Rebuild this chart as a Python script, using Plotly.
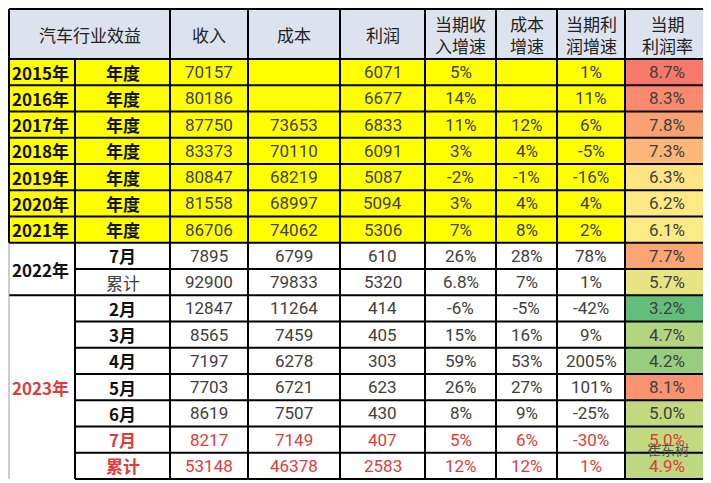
import plotly.graph_objects as go

headers = ["汽车行业效益", "收入", "成本", "利润", "当期收<br>入增速", "成本<br>增速", "当期利<br>润增速", "当期<br>利润率"]
years = ["2015年", "2016年", "2017年", "2018年", "2019年", "2020年", "2021年"]
periods = ["年度"] * 7 + ["7月", "累计", "2月", "3月", "4月", "5月", "6月", "7月", "累计"]
revenue = [70157, 80186, 87750, 83373, 80847, 81558, 86706, 7895, 92900, 12847, 8565, 7197, 7703, 8619, 8217, 53148]
cost = [None, None, 73653, 70110, 68219, 68997, 74062, 6799, 79833, 11264, 7459, 6278, 6721, 7507, 7149, 46378]
profit = [6071, 6677, 6833, 6091, 5087, 5094, 5306, 610, 5320, 414, 405, 303, 623, 430, 407, 2583]
rev_growth = ["5%", "14%", "11%", "3%", "-2%", "3%", "7%", "26%", "6.8%", "-6%", "15%", "59%", "26%", "8%", "5%", "12%"]
cost_growth = ["", "", "12%", "4%", "-1%", "4%", "8%", "28%", "7%", "-5%", "16%", "53%", "27%", "9%", "6%", "12%"]
profit_growth = ["1%", "11%", "6%", "-5%", "-16%", "4%", "2%", "78%", "1%", "-42%", "9%", "2005%", "101%", "-25%", "-30%", "1%"]
margin = [8.7, 8.3, 7.8, 7.3, 6.3, 6.2, 6.1, 7.7, 5.7, 3.2, 4.7, 4.2, 8.1, 5.0, 5.0, 4.9]

# layout styles
xb = [9, 75, 170, 248, 340, 425, 496, 557, 625, 709]
head_top, head_bot = 9, 59
rh = 26.25
NR = len(periods)
def rt(i): return head_bot + i * rh
GREY = "#404040"; RED = "#e03c3c"
NUM_FONT = "Liberation Sans Narrow, Arial Narrow, Roboto, sans-serif"
CJK = "Noto Sans CJK SC"

def lerp(c1, c2, t):
    return "rgb(%d,%d,%d)" % tuple(round(a + (b - a) * t) for a, b in zip(c1, c2))
lo, hi = min(margin), max(margin)
s = sorted(margin); mid = (s[NR//2 - 1] + s[NR//2]) / 2
def scale(v):
    g, y, r = (99, 190, 123), (255, 235, 132), (248, 120, 107)
    if v <= mid: return lerp(g, y, (v - lo) / (mid - lo))
    return lerp(y, r, (v - mid) / (hi - mid))

shapes, ann = [], []
def rect(x0, y0, x1, y1, fill):
    shapes.append(dict(type="rect", x0=x0, x1=x1, y0=y0, y1=y1, fillcolor=fill, line=dict(width=0), layer="below"))
def line(x0, y0, x1, y1, w=2, c="black"):
    shapes.append(dict(type="line", x0=x0, x1=x1, y0=y0, y1=y1, line=dict(color=c, width=w)))
def text(x, y, t, size=17, color=GREY, font=NUM_FONT, bold=False, xanchor="center"):
    if bold: t = "<b>%s</b>" % t
    ann.append(dict(x=x, y=y, text=t, showarrow=False, xanchor=xanchor, yanchor="middle",
                    font=dict(size=size, color=color, family=font)))

# header
rect(xb[0], head_top, xb[-1], head_bot, "#dce3ef")
text((xb[0] + xb[2]) / 2, (head_top + head_bot) / 2, headers[0], 17, "#222", CJK)
for j, h in enumerate(headers[1:]):
    text((xb[j + 2] + xb[j + 3]) / 2, (head_top + head_bot) / 2, h, 17, "#222", CJK)

for i in range(NR):
    y0, y1 = rt(i), rt(i + 1); yc = (y0 + y1) / 2
    if i < 7:
        rect(xb[0], y0, xb[8], y1, "#ffff00")
        text(xb[0] + 1, yc, years[i], 17, "#111", CJK, True, "left")
    rect(xb[8], y0, xb[9], y1, scale(margin[i]))
    red = i >= 14
    col = RED if red else GREY
    pbold = (i != 8)
    text((xb[1] + xb[2]) / 2, yc, periods[i], 17, RED if red else ("#111" if pbold else GREY), CJK, pbold)
    vals = [revenue[i], cost[i], profit[i], rev_growth[i], cost_growth[i], profit_growth[i], "%.1f%%" % margin[i]]
    for j, v in enumerate(vals):
        if v is None or v == "": continue
        text((xb[j + 2] + xb[j + 3]) / 2, yc, str(v), 17, col)

text(xb[0] + 1, rt(8), "2022年", 17, "#111", CJK, True, "left")
text(xb[0] + 1, (rt(12) + rt(13)) / 2, "2023年", 17, RED, CJK, True, "left")

# grid lines
line(xb[0], head_top, xb[-1], head_top, 2)
for i in range(NR + 1):
    y = rt(i)
    x0 = xb[0] if (i <= 7 or i == 9) else xb[1]
    line(x0, y, xb[-1], y, 2.2 if i <= 7 else 1.8)
for k, x in enumerate(xb):
    if k == 1:
        line(x, head_bot, x, rt(NR), 2)
    elif k == 0:
        line(x, head_top, x, rt(7), 2)
        line(x, rt(7), x, rt(NR), 1, "#999")
    else:
        line(x, head_top, x, rt(NR), 2)

ann.append(dict(x=668, y=449, text="崔东树", showarrow=False, font=dict(size=14, color="#555", family=CJK)))

fig = go.Figure()
fig.update_layout(width=703, height=475, margin=dict(l=0, r=0, t=0, b=0),
                  paper_bgcolor="white", plot_bgcolor="white",
                  xaxis=dict(range=[8, 711], visible=False, fixedrange=True),
                  yaxis=dict(range=[483, 8], visible=False, fixedrange=True),
                  shapes=shapes, annotations=ann, showlegend=False)
fig.write_html("out.html")
